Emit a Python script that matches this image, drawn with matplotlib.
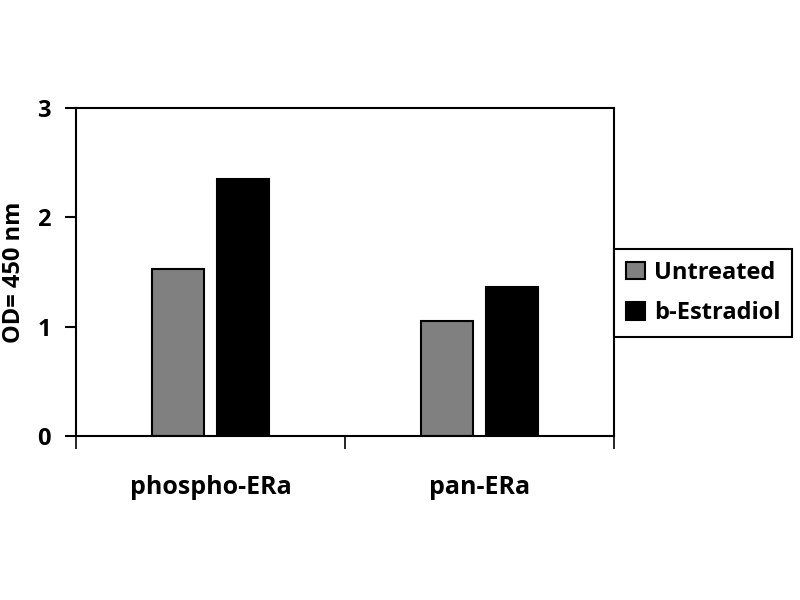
import matplotlib
matplotlib.use("Agg")
import matplotlib.pyplot as plt
import numpy as np

categories = ["phospho-ERa", "pan-ERa"]
series_names = ["Untreated", "b-Estradiol"]
untreated = [1.53, 1.05]
estradiol = [2.35, 1.36]
y_ticks = [0, 1, 2, 3]

plt.rcParams['font.family'] = ['Open Sans', 'DejaVu Sans']
plt.rcParams['font.weight'] = 'bold'

fig = plt.figure(figsize=(8, 6), dpi=100)
ax = fig.add_axes([76/800, 1-436/600, (614-76)/800, (436-108)/600])

x = np.arange(len(categories))
w = 0.193
off = 0.122
ax.bar(x - off, untreated, w, color='#808080', edgecolor='black', linewidth=1.5, label=series_names[0])
ax.bar(x + off, estradiol, w, color='black', edgecolor='black', linewidth=1.5, label=series_names[1])

ax.set_xlim(-0.5, 1.5)
ax.set_ylim(0, 3)
ax.set_yticks(y_ticks)
ax.set_yticklabels([str(t) for t in y_ticks])
ax.tick_params(axis='y', direction='out', length=8, width=1.5, pad=10, labelsize=17)

ax.set_xticks([-0.5, 0.5, 1.5])
ax.set_xticklabels(['', '', ''])
ax.tick_params(axis='x', which='major', direction='out', length=9, width=1.2)
ax.set_xticks(x, minor=True)
ax.set_xticklabels(categories, minor=True)
ax.tick_params(axis='x', which='minor', length=0, pad=28, labelsize=18)

for s in ax.spines.values():
    s.set_linewidth(1.5)

ax.set_ylabel("OD= 450 nm", fontsize=17, fontweight='bold', labelpad=8)

leg = fig.legend(loc='center left', bbox_to_anchor=(614/800, 1-293/600),
                 frameon=True, fancybox=False, edgecolor='black', framealpha=1,
                 prop={'size': 17, 'weight': 'bold'}, handlelength=0.8, handleheight=0.75,
                 handletextpad=0.4, borderpad=0.5, labelspacing=0.7, borderaxespad=0)
leg.get_frame().set_linewidth(1.5)

fig.savefig("out.png", dpi=100)
